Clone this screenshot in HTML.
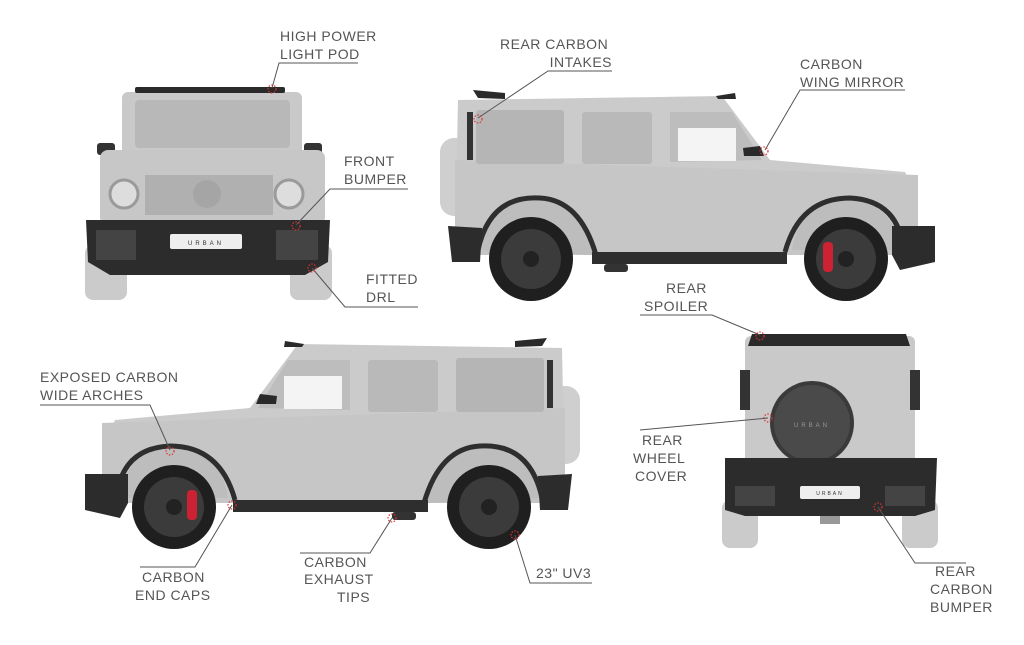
<!DOCTYPE html>
<html><head><meta charset="utf-8"><style>
html,body{margin:0;padding:0;background:#fff;width:1024px;height:645px;overflow:hidden}
text{font-family:"Liberation Sans",sans-serif;font-size:14px;fill:#555;letter-spacing:0.5px}
</style></head><body>
<svg width="1024" height="645" viewBox="0 0 1024 645" xmlns="http://www.w3.org/2000/svg">
<defs>
<g id="side">
  <rect x="440" y="138" width="30" height="78" rx="14" fill="#cfcfcf"/>
  <path d="M458 100 L722 96 L770 160 L905 172 L918 200 L918 240 L455 245 Z" fill="#cbcbcb"/>
  <path d="M455 160 L918 175 L918 255 L455 255 Z" fill="#c6c6c6"/>
  <rect x="476" y="110" width="88" height="54" rx="3" fill="#b5b5b5"/>
  <rect x="582" y="112" width="70" height="52" rx="3" fill="#b9b9b9"/>
  <path d="M670 112 L732 112 L762 160 L670 162 Z" fill="#bdbdbd"/>
  <rect x="678" y="128" width="58" height="33" fill="#f4f4f4"/>
  <path d="M473 90 L505 93 L505 99 L478 98 Z" fill="#2a2a2a"/>
  <path d="M716 96 L735 93 L736 99 L718 99 Z" fill="#2a2a2a"/>
  <rect x="467" y="112" width="6" height="48" fill="#333"/>
  <path d="M743 148 L760 146 L764 156 L744 156 Z" fill="#2a2a2a"/>
  <path d="M478 250 Q490 195 540 198 Q580 200 596 255 Z" fill="#bdbdbd"/>
  <path d="M792 250 Q800 198 850 198 Q890 200 902 250 Z" fill="#bdbdbd"/>
  <path d="M478 250 Q490 195 540 198 Q580 200 596 255" fill="none" stroke="#2e2e2e" stroke-width="5"/>
  <path d="M785 252 Q800 198 850 198 Q893 200 902 240" fill="none" stroke="#2e2e2e" stroke-width="5"/>
  <path d="M448 226 L482 228 L480 262 L452 262 Z" fill="#2c2c2c"/>
  <path d="M892 226 L935 226 L935 262 L900 270 L892 255 Z" fill="#2c2c2c"/>
  <rect x="592" y="252" width="195" height="12" fill="#2e2e2e"/>
  <rect x="604" y="264" width="24" height="8" rx="3" fill="#333"/>
  <circle cx="531" cy="259" r="42" fill="#1f1f1f"/>
  <circle cx="531" cy="259" r="30" fill="#3b3b3b"/>
  <circle cx="531" cy="259" r="8" fill="#222"/>
  <circle cx="846" cy="259" r="42" fill="#1f1f1f"/>
  <circle cx="846" cy="259" r="30" fill="#3b3b3b"/>
  <rect x="823" y="242" width="10" height="30" rx="4" fill="#c23"/>
  <circle cx="846" cy="259" r="8" fill="#222"/>
</g>
</defs>

<g>
  <rect x="122" y="92" width="180" height="90" rx="6" fill="#c9c9c9"/>
  <rect x="135" y="100" width="155" height="48" rx="4" fill="#b8b8b8"/>
  <rect x="135" y="87" width="150" height="6" rx="2" fill="#2a2a2a"/>
  <rect x="97" y="143" width="18" height="12" rx="3" fill="#333"/>
  <rect x="304" y="143" width="18" height="12" rx="3" fill="#333"/>
  <rect x="100" y="150" width="225" height="75" rx="8" fill="#c7c7c7"/>
  <rect x="145" y="175" width="128" height="40" fill="#b0b0b0"/>
  <circle cx="124" cy="194" r="14" fill="#ddd" stroke="#9a9a9a" stroke-width="3"/>
  <circle cx="289" cy="194" r="14" fill="#ddd" stroke="#9a9a9a" stroke-width="3"/>
  <circle cx="207" cy="194" r="14" fill="#a5a5a5"/>
  <rect x="85" y="245" width="42" height="55" rx="8" fill="#cbcbcb"/>
  <rect x="290" y="245" width="42" height="55" rx="8" fill="#cbcbcb"/>
  <path d="M86 220 L330 220 L328 262 L305 275 L110 275 L88 262 Z" fill="#2c2c2c"/>
  <rect x="96" y="230" width="40" height="30" fill="#444"/>
  <rect x="276" y="230" width="42" height="30" fill="#444"/>
  <rect x="170" y="234" width="72" height="15" rx="2" fill="#eee"/>
  <text x="206" y="245" text-anchor="middle" style="font-size:6px;fill:#333;letter-spacing:3px">URBAN</text>
</g>

<use href="#side"/>
<use href="#side" transform="translate(1020,248) scale(-1,1)"/>

<g>
  <rect x="745" y="336" width="170" height="130" rx="6" fill="#c9c9c9"/>
  <path d="M752 334 L906 334 L910 346 L748 346 Z" fill="#2a2a2a"/>
  <rect x="740" y="370" width="10" height="40" fill="#333"/>
  <rect x="910" y="370" width="10" height="40" fill="#333"/>
  <circle cx="812" cy="423" r="42" fill="#3a3a3a"/>
  <circle cx="812" cy="423" r="38" fill="#4a4a4a"/>
  <text x="812" y="427" text-anchor="middle" style="font-size:6px;fill:#999;letter-spacing:3px">URBAN</text>
  <rect x="722" y="500" width="36" height="48" rx="8" fill="#cbcbcb"/>
  <rect x="902" y="500" width="36" height="48" rx="8" fill="#cbcbcb"/>
  <path d="M725 458 L937 458 L935 510 L915 516 L745 516 L725 510 Z" fill="#2c2c2c"/>
  <rect x="735" y="486" width="40" height="20" fill="#444"/>
  <rect x="885" y="486" width="40" height="20" fill="#444"/>
  <rect x="800" y="486" width="60" height="13" rx="2" fill="#eee"/>
  <text x="830" y="495" text-anchor="middle" style="font-size:5px;fill:#333;letter-spacing:2px">URBAN</text>
  <rect x="820" y="516" width="20" height="8" fill="#999"/>
</g>

<g stroke="#555" stroke-width="1" fill="none">
  <path d="M358 63 L279 63 L272 88"/>
  <path d="M612 71 L548 71 L478 118"/>
  <path d="M905 90 L800 90 L765 150"/>
  <path d="M408 189 L330 189 L296 225"/>
  <path d="M418 307 L345 307 L312 268"/>
  <path d="M640 315 L712 315 L760 335"/>
  <path d="M40 405 L150 405 L170 450"/>
  <path d="M640 430 L768 418"/>
  <path d="M140 567 L195 567 L232 505"/>
  <path d="M300 553 L370 553 L392 518"/>
  <path d="M592 583 L530 583 L515 535"/>
  <path d="M966 563 L915 563 L878 507"/>
</g>
<g fill="none" stroke="#d33" stroke-width="1.2" stroke-dasharray="1.5 1.5">
  <circle cx="272" cy="89" r="4"/><circle cx="478" cy="119" r="4"/><circle cx="764" cy="151" r="4"/>
  <circle cx="296" cy="226" r="4"/><circle cx="312" cy="268" r="4"/><circle cx="760" cy="336" r="4"/>
  <circle cx="170" cy="451" r="4"/><circle cx="768" cy="418" r="4"/><circle cx="232" cy="505" r="4"/>
  <circle cx="392" cy="518" r="4"/><circle cx="515" cy="535" r="4"/><circle cx="878" cy="507" r="4"/>
</g>
<text x="280" y="41">HIGH POWER</text><text x="280" y="59">LIGHT POD</text>
<text x="500" y="49">REAR CARBON</text><text x="612" y="67" text-anchor="end">INTAKES</text>
<text x="800" y="69">CARBON</text><text x="800" y="87">WING MIRROR</text>
<text x="344" y="166">FRONT</text><text x="344" y="184">BUMPER</text>
<text x="366" y="284">FITTED</text><text x="366" y="302">DRL</text>
<text x="666" y="293">REAR</text><text x="644" y="311">SPOILER</text>
<text x="40" y="382">EXPOSED CARBON</text><text x="40" y="400">WIDE ARCHES</text>
<text x="642" y="445">REAR</text><text x="633" y="463">WHEEL</text><text x="635" y="481">COVER</text>
<text x="142" y="582">CARBON</text><text x="135" y="600">END CAPS</text>
<text x="304" y="567">CARBON</text><text x="304" y="584">EXHAUST</text><text x="337" y="602">TIPS</text>
<text x="536" y="578">23" UV3</text>
<text x="935" y="576">REAR</text><text x="930" y="594">CARBON</text><text x="930" y="612">BUMPER</text>
</svg>
</body></html>
